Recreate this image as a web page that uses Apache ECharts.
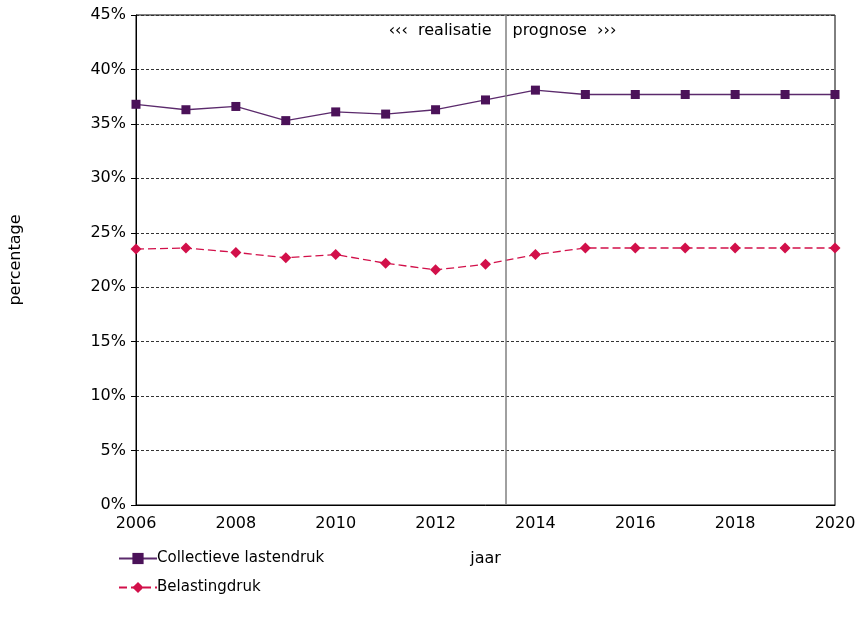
<!DOCTYPE html>
<html><head><meta charset="utf-8">
<script src="https://cdn.jsdelivr.net/npm/echarts@6/dist/echarts.min.js"></script>
<style>html,body{margin:0;padding:0;background:#fff}#c{width:860px;height:627px}</style>
</head><body><div id="c"></div>
<script>
const years = [2006,2007,2008,2009,2010,2011,2012,2013,2014,2015,2016,2017,2018,2019,2020];
const collectieve = [36.8,36.3,36.6,35.3,36.1,35.9,36.3,37.2,38.1,37.7,37.7,37.7,37.7,37.7,37.7];
const belasting = [23.5,23.6,23.2,22.7,23.0,22.2,21.6,22.1,23.0,23.6,23.6,23.6,23.6,23.6,23.6];
const splitYear = 2013.4;
const seriesNames = ['Collectieve lastendruk','Belastingdruk'];
const FONT = 'DejaVu Sans';

const chart = echarts.init(document.getElementById('c'));
chart.setOption({
  animation:false,
  textStyle:{fontFamily:FONT},
  grid:{left:136,right:25,top:15,bottom:122,show:true,borderColor:'#000',borderWidth:1},
  legend:{orient:'vertical',left:113,top:546,itemGap:14,itemWidth:38,itemHeight:14,
    textStyle:{fontFamily:FONT,fontSize:15,color:'#000',padding:[0,0,0,-5]},
    data:seriesNames},
  xAxis:{type:'value',min:2006,max:2020,interval:2,name:'jaar',nameLocation:'middle',nameGap:46,
    nameTextStyle:{fontFamily:FONT,fontSize:16,color:'#000'},
    axisLine:{show:true,lineStyle:{color:'#000'}},axisTick:{show:false},
    axisLabel:{fontFamily:FONT,fontSize:16,color:'#000',margin:11,formatter:v=>String(v)},splitLine:{show:false}},
  yAxis:{type:'value',min:0,max:45,interval:5,name:'percentage',nameLocation:'middle',nameGap:112,
    nameTextStyle:{fontFamily:FONT,fontSize:16,color:'#000'},
    axisLine:{show:true,lineStyle:{color:'#000'}},axisTick:{show:true,length:5,inside:false,lineStyle:{color:'#000'}},
    axisLabel:{fontFamily:FONT,fontSize:16,color:'#000',formatter:'{value}%',margin:10},
    splitLine:{show:true,lineStyle:{color:'#333',type:[3,2],width:1}}},
  series:[
    {name:seriesNames[0],type:'line',data:years.map((y,i)=>[y,collectieve[i]]),
     symbol:'rect',symbolSize:9,itemStyle:{color:'#4b1259'},lineStyle:{color:'#5b2a6c',width:1.3},
     markLine:{silent:true,symbol:'none',label:{show:false},lineStyle:{color:'#808080',type:'solid',width:1.5},
       data:[{xAxis:splitYear}]}},
    {name:seriesNames[1],type:'line',data:years.map((y,i)=>[y,belasting[i]]),
     symbol:'diamond',symbolSize:11,itemStyle:{color:'#d2104a'},lineStyle:{color:'#d2104a',width:1.3,type:[8,4]}}
  ]
});
const px = chart.convertToPixel({gridIndex:0},[splitYear,45]);
chart.setOption({graphic:[
  {type:'text',right:860-(px[0]-14),top:px[1]+8,style:{text:'‹‹‹  realisatie',font:'16px "DejaVu Sans"',fill:'#000'}},
  {type:'text',left:px[0]+7,top:px[1]+8,style:{text:'prognose  ›››',font:'16px "DejaVu Sans"',fill:'#000'}}
]});
</script></body></html>
